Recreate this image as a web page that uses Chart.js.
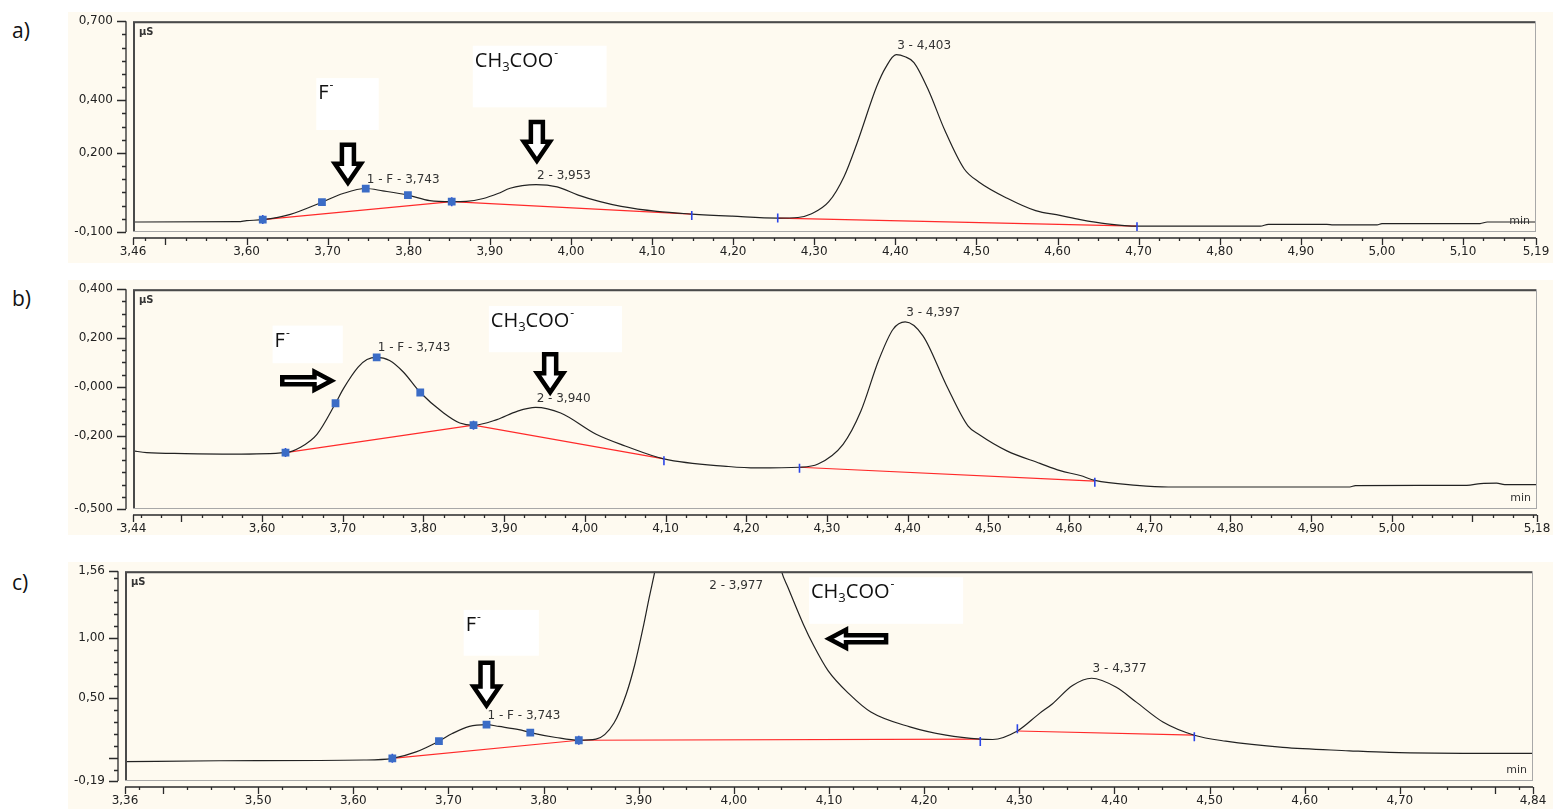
<!DOCTYPE html>
<html>
<head>
<meta charset="utf-8">
<title>Chromatograms a) b) c)</title>
<script src="https://cdn.jsdelivr.net/npm/chart.js@4.4.1/dist/chart.umd.min.js"></script>
<style>
  body { margin: 0; background: #fff; width: 1553px; height: 809px; position: relative; overflow: hidden; font-family: "Open Sans", sans-serif; }
  .panel { position: absolute; left: 68px; width: 1485px; }
  .tag { position: absolute; left: 12px; font-size: 21px; color: #111; line-height: 28px; }
</style>
</head>
<body>
<div class="tag" style="top:16px">a)</div>
<div class="tag" style="top:284px">b)</div>
<div class="tag" style="top:568px">c)</div>
<div class="panel" style="top:12px;height:251px"><canvas id="chartA"></canvas></div>
<div class="panel" style="top:280px;height:255px"><canvas id="chartB"></canvas></div>
<div class="panel" style="top:562px;height:247px"><canvas id="chartC"></canvas></div>
<script>
// ---- a) ----
const aTime = [3.46, 3.59, 3.60, 3.62, 3.654, 3.693, 3.719, 3.747, 3.768, 3.799, 3.826, 3.853, 3.871, 3.892, 3.910, 3.925, 3.940, 3.957, 3.983, 4.009, 4.036, 4.062, 4.106, 4.149, 4.199, 4.255, 4.280, 4.296, 4.318, 4.337, 4.353, 4.377, 4.388, 4.401, 4.412, 4.423, 4.441, 4.461, 4.485, 4.503, 4.538, 4.573, 4.603, 4.628, 4.661, 4.698, 4.850, 4.860, 4.932, 4.940, 4.994, 5.000, 5.121, 5.130, 5.19];
const aSignal = [-0.062, -0.061, -0.057, -0.053, -0.033, 0.013, 0.046, 0.065, 0.056, 0.040, 0.019, 0.015, 0.016, 0.027, 0.046, 0.066, 0.076, 0.080, 0.071, 0.040, 0.015, -0.003, -0.022, -0.032, -0.040, -0.047, -0.045, -0.032, 0.015, 0.112, 0.239, 0.452, 0.524, 0.573, 0.565, 0.543, 0.437, 0.286, 0.139, 0.090, 0.028, -0.019, -0.037, -0.053, -0.069, -0.078, -0.078, -0.071, -0.071, -0.073, -0.073, -0.068, -0.068, -0.062, -0.062];
const aBaseTime = [3.62, 3.853, 4.149, 4.20, 4.255, 4.698];
const aBase = [-0.053, 0.015, -0.032, null, -0.047, -0.078];
const aMarkTime = [3.62, 3.693, 3.747, 3.799, 3.853];
const aMark = [-0.053, 0.013, 0.065, 0.040, 0.015];
const aCutTime = [3.62, 3.853, 4.149, 4.255, 4.698];
const aCut = [-0.053, 0.015, -0.037, -0.047, -0.080];
const aPeakTime = [3.747, 3.957, 4.401];
const aPeakY = [0.065, 0.080, 0.573];
const aPeakText = ['1 - F - 3,743', '2 - 3,953', '3 - 4,403'];
const aXLabels = [3.46, 3.60, 3.70, 3.80, 3.90, 4.00, 4.10, 4.20, 4.30, 4.40, 4.50, 4.60, 4.70, 4.80, 4.90, 5.00, 5.10, 5.19];
const aYValues = [0.7, 0.4, 0.2, -0.1];
const aYLabels = ['0,700', '0,400', '0,200', '-0,100'];

// ---- b) ----
const bTime = [3.44, 3.457, 3.504, 3.564, 3.629, 3.647, 3.668, 3.691, 3.701, 3.719, 3.730, 3.742, 3.758, 3.775, 3.796, 3.825, 3.845, 3.862, 3.891, 3.916, 3.939, 3.970, 4.014, 4.050, 4.098, 4.178, 4.213, 4.266, 4.289, 4.320, 4.342, 4.364, 4.382, 4.397, 4.419, 4.448, 4.475, 4.488, 4.523, 4.564, 4.589, 4.614, 4.632, 4.684, 4.723, 4.948, 4.955, 5.093, 5.110, 5.130, 5.140, 5.18];
const bSignal = [-0.262, -0.269, -0.273, -0.275, -0.269, -0.248, -0.194, -0.067, -0.006, 0.081, 0.112, 0.121, 0.108, 0.061, -0.023, -0.107, -0.148, -0.157, -0.134, -0.100, -0.084, -0.107, -0.194, -0.242, -0.295, -0.326, -0.332, -0.329, -0.316, -0.235, -0.100, 0.108, 0.236, 0.266, 0.209, 0.007, -0.161, -0.194, -0.262, -0.313, -0.343, -0.363, -0.383, -0.403, -0.410, -0.410, -0.404, -0.403, -0.396, -0.394, -0.400, -0.400];
const bBaseTime = [3.629, 3.862, 4.098, 4.18, 4.266, 4.632];
const bBase = [-0.269, -0.157, -0.295, null, -0.329, -0.386];
const bMarkTime = [3.629, 3.691, 3.742, 3.796, 3.862];
const bMark = [-0.269, -0.067, 0.121, -0.023, -0.157];
const bCutTime = [3.629, 3.862, 4.098, 4.266, 4.632];
const bCut = [-0.269, -0.157, -0.302, -0.333, -0.390];
const bPeakTime = [3.742, 3.939, 4.397];
const bPeakY = [0.121, -0.084, 0.266];
const bPeakText = ['1 - F - 3,743', '2 - 3,940', '3 - 4,397'];
const bXLabels = [3.44, 3.60, 3.70, 3.80, 3.90, 4.00, 4.10, 4.20, 4.30, 4.40, 4.50, 4.60, 4.70, 4.80, 4.90, 5.00, 5.18];
const bYValues = [0.4, 0.2, 0, -0.2, -0.5];
const bYLabels = ['0,400', '0,200', '-0,000', '-0,200', '-0,500'];

// ---- c) ----
const cTime = [3.36, 3.459, 3.611, 3.641, 3.666, 3.690, 3.704, 3.722, 3.740, 3.753, 3.774, 3.786, 3.813, 3.837, 3.855, 3.874, 3.887, 3.896, 3.905, 3.911, 3.917, 3.935, 3.977, 4.030, 4.050, 4.057, 4.073, 4.084, 4.099, 4.122, 4.144, 4.185, 4.223, 4.259, 4.272, 4.298, 4.321, 4.335, 4.356, 4.376, 4.402, 4.423, 4.451, 4.484, 4.517, 4.577, 4.647, 4.689, 4.800, 4.84];
const cSignal = [-0.029, -0.021, -0.015, -0.001, 0.053, 0.142, 0.206, 0.266, 0.280, 0.265, 0.239, 0.214, 0.173, 0.150, 0.159, 0.294, 0.538, 0.786, 1.104, 1.339, 1.560, 2.300, 2.900, 2.300, 1.560, 1.422, 1.118, 0.938, 0.731, 0.530, 0.385, 0.261, 0.192, 0.159, 0.156, 0.227, 0.372, 0.455, 0.606, 0.667, 0.592, 0.468, 0.302, 0.192, 0.142, 0.090, 0.062, 0.048, 0.040, 0.040];
const cBaseTime = [3.641, 3.837, 4.259, 4.28, 4.298, 4.484];
const cBase = [-0.001, 0.150, 0.159, null, 0.227, 0.192];
const cMarkTime = [3.641, 3.690, 3.740, 3.786, 3.837];
const cMark = [-0.001, 0.142, 0.280, 0.214, 0.150];
const cCutTime = [3.641, 3.837, 4.259, 4.298, 4.484];
const cCut = [-0.001, 0.150, 0.140, 0.245, 0.180];
const cPeakTime = [3.740, 3.973, 4.376];
const cPeakY = [0.280, 1.36, 0.667];
const cPeakText = ['1 - F - 3,743', '2 - 3,977', '3 - 4,377'];
const cXLabels = [3.36, 3.50, 3.60, 3.70, 3.80, 3.90, 4.00, 4.10, 4.20, 4.30, 4.40, 4.50, 4.60, 4.70, 4.84];
const cYValues = [1.56, 1.0, 0.5, -0.19];
const cYLabels = ['1,56', '1,00', '0,50', '-0,19'];

const PAPER = '#fefaf0';
const TICK_FONT = { family: 'DejaVu Sans', size: 12 };
const F_TEXT = [['F', 0], ['-', 2]];
const AC_TEXT = [['CH', 0], ['3', 1], ['COO', 0], ['-', 2]];

const near = (a, b) => Math.abs(a - b) < 1e-6;

function tickList(min, max, step) {
  const out = [min];
  let k = Math.floor(min / step + 1e-9) + 1;
  for (;;) {
    const v = Math.round(k * step * 1000) / 1000;
    if (v >= max - 1e-9) break;
    if (v > min + 1e-9) out.push(v);
    k++;
  }
  out.push(max);
  return out;
}

function pts(xs, ys) {
  return xs.map((x, i) => ({ x: x, y: ys[i] }));
}

function drawArrow(ctx, x0, y0, x1, y1, sh, hh, hl) {
  const L = Math.hypot(x1 - x0, y1 - y0);
  const ux = (x1 - x0) / L, uy = (y1 - y0) / L;
  const nx = -uy, ny = ux;
  const neckX = x0 + ux * (L - hl), neckY = y0 + uy * (L - hl);
  ctx.beginPath();
  ctx.moveTo(x0 + nx * sh, y0 + ny * sh);
  ctx.lineTo(neckX + nx * sh, neckY + ny * sh);
  ctx.lineTo(neckX + nx * hh, neckY + ny * hh);
  ctx.lineTo(x1, y1);
  ctx.lineTo(neckX - nx * hh, neckY - ny * hh);
  ctx.lineTo(neckX - nx * sh, neckY - ny * sh);
  ctx.lineTo(x0 - nx * sh, y0 - ny * sh);
  ctx.closePath();
  ctx.fillStyle = '#fff';
  ctx.fill();
  ctx.lineWidth = 4.5;
  ctx.lineJoin = 'miter';
  ctx.strokeStyle = '#000';
  ctx.stroke();
}

function drawNoteText(ctx, parts, x, base) {
  let cx = x;
  parts.forEach(([t, kind]) => {
    if (kind === 0) { ctx.font = '20px "Open Sans"'; ctx.fillText(t, cx, base); }
    else if (kind === 1) { ctx.font = '13px "Open Sans"'; ctx.fillText(t, cx, base + 4); }
    else { ctx.font = '12px "Open Sans"'; ctx.fillText(t, cx + 1, base - 10); }
    cx += ctx.measureText(t).width;
  });
}

function makePlugin(p) {
  return {
    id: 'chrom',
    beforeDraw(chart) {
      const ctx = chart.ctx;
      ctx.save();
      ctx.fillStyle = PAPER;
      ctx.fillRect(0, 0, chart.width, chart.height);
      ctx.restore();
    },
    afterDraw(chart) {
      const { ctx, chartArea: a, scales: { x, y } } = chart;
      ctx.save();

      // frame of the plot box
      ctx.lineWidth = 1;
      ctx.strokeStyle = '#a8a8a8';
      ctx.strokeRect(a.left + 0.5, a.top + 0.5, a.right - a.left - 1, a.bottom - a.top - 1);
      ctx.lineWidth = 2;
      ctx.strokeStyle = '#4a4a4a';
      ctx.beginPath();
      ctx.moveTo(a.left + 1, a.bottom - 1);
      ctx.lineTo(a.left + 1, a.top + 1);
      ctx.lineTo(a.right - 1, a.top + 1);
      ctx.stroke();

      // detached axis lines with tick marks
      const ax = a.left - 7, ay = a.bottom + 6;
      ctx.strokeStyle = '#2a2a2a';
      ctx.lineWidth = 1.3;
      ctx.beginPath();
      ctx.moveTo(ax, a.top);
      ctx.lineTo(ax, a.bottom);
      y.ticks.forEach(t => {
        const py = Math.round(y.getPixelForValue(t.value)) + 0.5;
        const major = p.yMajor.some(v => near(v, t.value));
        ctx.moveTo(ax - (major ? 9 : 4), py);
        ctx.lineTo(ax, py);
      });
      ctx.moveTo(a.left, ay);
      ctx.lineTo(a.right, ay);
      x.ticks.forEach(t => {
        const px = Math.round(x.getPixelForValue(t.value)) + 0.5;
        const major = near(t.value * 10, Math.round(t.value * 10)) || near(t.value, x.min) || near(t.value, x.max);
        ctx.moveTo(px, ay);
        ctx.lineTo(px, ay + (major ? 7 : 3));
      });
      ctx.stroke();

      // unit captions
      ctx.fillStyle = '#333';
      ctx.font = 'bold 10px "DejaVu Sans"';
      ctx.textAlign = 'left';
      ctx.textBaseline = 'middle';
      ctx.fillText('µS', a.left + 6, a.top + 11);
      ctx.font = '11px "DejaVu Sans"';
      ctx.textAlign = 'right';
      ctx.textBaseline = 'alphabetic';
      ctx.fillText('min', a.right - 6, a.bottom - 8);

      // peak captions
      ctx.font = '12px "DejaVu Sans"';
      ctx.textAlign = 'left';
      ctx.textBaseline = 'bottom';
      p.peakTime.forEach((t, i) => {
        ctx.fillText(p.peakText[i], x.getPixelForValue(t) + 1, y.getPixelForValue(p.peakY[i]) - 3);
      });

      // pasted ion labels and arrows
      ctx.textAlign = 'left';
      ctx.textBaseline = 'alphabetic';
      p.notes.boxes.forEach(b => {
        const x0 = x.getPixelForValue(b.x[0]), x1 = x.getPixelForValue(b.x[1]);
        const y0 = y.getPixelForValue(b.y[0]), y1 = y.getPixelForValue(b.y[1]);
        ctx.fillStyle = '#fff';
        ctx.fillRect(x0, y0, x1 - x0, y1 - y0);
        ctx.fillStyle = '#111';
        drawNoteText(ctx, b.text, x0 + 2, y0 + 21);
      });
      p.notes.arrows.forEach(r => {
        const fx = x.getPixelForValue(r.from[0]), fy = y.getPixelForValue(r.from[1]);
        const tx = x.getPixelForValue(r.to[0]), ty = y.getPixelForValue(r.to[1]);
        if (r.kind === 'v') drawArrow(ctx, fx, fy, tx, ty, 6, 13, 19);
        else drawArrow(ctx, fx, fy, tx, ty, 3.5, 9, 17);
      });
      ctx.restore();
    }
  };
}

function panel(id, p) {
  const xTicks = tickList(p.xRange[0], p.xRange[1], 0.025);
  const yTicks = tickList(p.yRange[0], p.yRange[1], p.yStep);
  return new Chart(document.getElementById(id), {
    type: 'line',
    data: {
      datasets: [
        { data: pts(p.time, p.signal), borderColor: '#222', borderWidth: 1.2, pointRadius: 0, cubicInterpolationMode: 'monotone', order: 2 },
        { data: pts(p.baseTime, p.base), borderColor: '#ff2a2a', borderWidth: 1.2, pointRadius: 0, tension: 0, spanGaps: false, order: 3 },
        { data: pts(p.cutTime, p.cut), showLine: false, pointStyle: 'line', rotation: 90, pointRadius: 4.5, borderColor: '#2b45e8', borderWidth: 1.6, order: 1 },
        { data: pts(p.markTime, p.mark), showLine: false, pointStyle: 'rect', pointRadius: 5.5, backgroundColor: '#3b6cc6', borderColor: '#3b6cc6', borderWidth: 0, order: 0 }
      ]
    },
    options: {
      responsive: true,
      maintainAspectRatio: false,
      animation: false,
      events: [],
      layout: { padding: { top: p.pad[0], right: p.pad[1], left: 0, bottom: 0 } },
      plugins: { legend: { display: false }, tooltip: { enabled: false } },
      scales: {
        x: {
          type: 'linear',
          min: p.xRange[0],
          max: p.xRange[1],
          afterBuildTicks: s => { s.ticks = xTicks.map(v => ({ value: v })); },
          afterFit: s => { s.height = p.pad[2]; },
          ticks: {
            autoSkip: false, maxRotation: 0, padding: 0, font: TICK_FONT, color: '#222',
            callback: v => p.xLabels.some(l => near(l, v)) ? v.toFixed(2).replace('.', ',') : ''
          },
          grid: { drawOnChartArea: false, color: 'rgba(0,0,0,0)', tickLength: 13 },
          border: { display: false }
        },
        y: {
          min: p.yRange[0],
          max: p.yRange[1],
          afterBuildTicks: s => { s.ticks = yTicks.map(v => ({ value: v })); },
          afterFit: s => { s.width = p.pad[3]; },
          ticks: {
            autoSkip: false, padding: 2, font: TICK_FONT, color: '#222',
            callback: v => {
              const i = p.yValues.findIndex(l => near(l, v));
              return i < 0 ? '' : p.yLabels[i];
            }
          },
          grid: { drawOnChartArea: false, color: 'rgba(0,0,0,0)', tickLength: 18 },
          border: { display: false }
        }
      }
    },
    plugins: [makePlugin(p)]
  });
}

panel('chartA', {
  time: aTime, signal: aSignal, baseTime: aBaseTime, base: aBase,
  markTime: aMarkTime, mark: aMark, cutTime: aCutTime, cut: aCut,
  peakTime: aPeakTime, peakY: aPeakY, peakText: aPeakText,
  xLabels: aXLabels, yValues: aYValues, yLabels: aYLabels, yMajor: aYValues,
  xRange: [3.46, 5.19], yRange: [-0.1, 0.7], yStep: 0.05,
  pad: [4, 17, 31, 65],
  notes: {
    boxes: [
      { x: [3.686, 3.763], y: [0.484, 0.287], text: F_TEXT },
      { x: [3.879, 4.044], y: [0.607, 0.373], text: AC_TEXT }
    ],
    arrows: [
      { from: [3.725, 0.231], to: [3.725, 0.087], kind: 'v' },
      { from: [3.958, 0.317], to: [3.958, 0.170], kind: 'v' }
    ]
  }
});

panel('chartB', {
  time: bTime, signal: bSignal, baseTime: bBaseTime, base: bBase,
  markTime: bMarkTime, mark: bMark, cutTime: bCutTime, cut: bCut,
  peakTime: bPeakTime, peakY: bPeakY, peakText: bPeakText,
  xLabels: bXLabels, yValues: bYValues, yLabels: bYLabels, yMajor: bYValues,
  xRange: [3.44, 5.18], yRange: [-0.5, 0.4], yStep: 0.05,
  pad: [6, 16, 26, 65],
  notes: {
    boxes: [
      { x: [3.613, 3.700], y: [0.251, 0.097], text: F_TEXT },
      { x: [3.881, 4.046], y: [0.331, 0.142], text: AC_TEXT }
    ],
    arrows: [
      { from: [3.625, 0.025], to: [3.686, 0.025], kind: 'h' },
      { from: [3.957, 0.134], to: [3.957, -0.022], kind: 'v' }
    ]
  }
});

panel('chartC', {
  time: cTime, signal: cSignal, baseTime: cBaseTime, base: cBase,
  markTime: cMarkTime, mark: cMark, cutTime: cCutTime, cut: cCut,
  peakTime: cPeakTime, peakY: cPeakY, peakText: cPeakText,
  xLabels: cXLabels, yValues: cYValues, yLabels: cYLabels, yMajor: cYValues.concat([0]),
  xRange: [3.36, 4.84], yRange: [-0.19, 1.56], yStep: 0.1,
  pad: [8, 20, 28, 57],
  notes: {
    boxes: [
      { x: [3.716, 3.795], y: [1.237, 0.855], text: F_TEXT },
      { x: [4.079, 4.241], y: [1.510, 1.121], text: AC_TEXT }
    ],
    arrows: [
      { from: [3.740, 0.797], to: [3.740, 0.440], kind: 'v' },
      { from: [4.160, 0.996], to: [4.100, 0.996], kind: 'h' }
    ]
  }
});
</script>
</body>
</html>
